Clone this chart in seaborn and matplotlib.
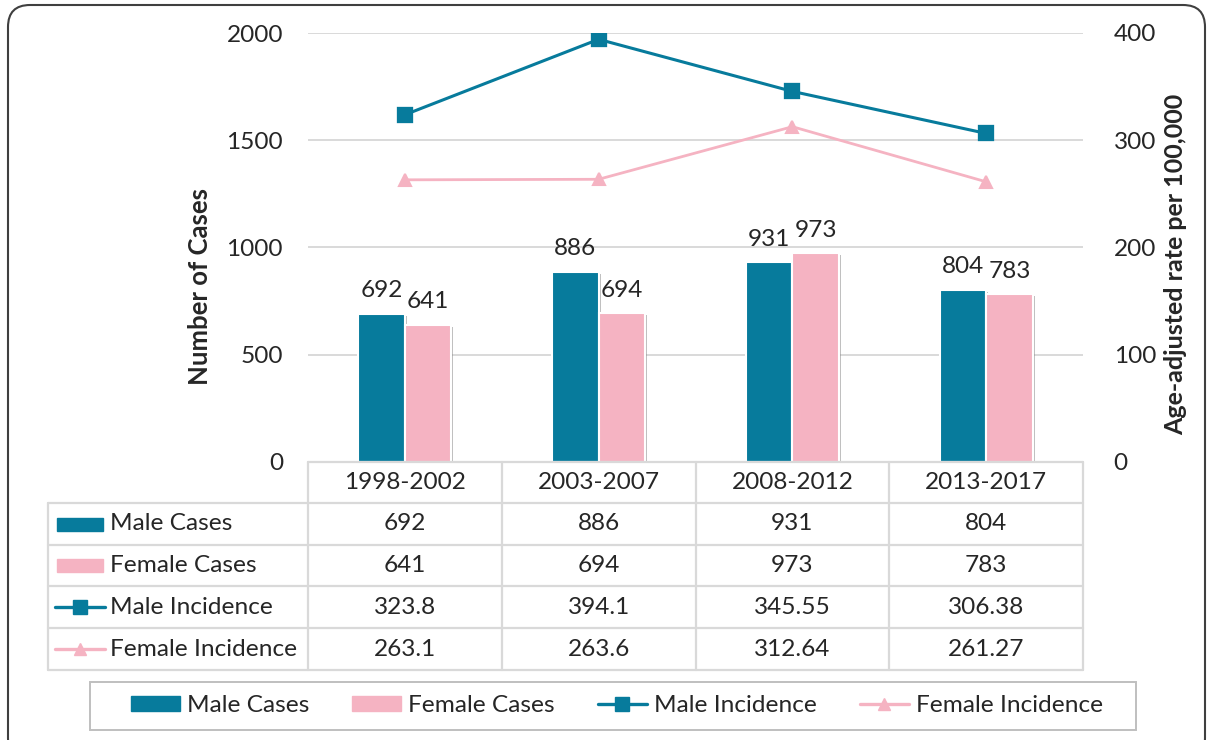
import matplotlib
matplotlib.use("Agg")
import matplotlib.pyplot as plt
import matplotlib.patheffects as pe
import matplotlib.transforms as mtrans
from matplotlib.patches import Rectangle, FancyBboxPatch
from matplotlib.lines import Line2D
import numpy as np
import pandas as pd
import seaborn as sns

# ---------------- data ----------------
periods = ["1998-2002", "2003-2007", "2008-2012", "2013-2017"]
male_cases = [692, 886, 931, 804]
female_cases = [641, 694, 973, 783]
male_incidence = [323.8, 394.1, 345.55, 306.38]
female_incidence = [263.1, 263.6, 312.64, 261.27]
series_names = ["Male Cases", "Female Cases", "Male Incidence", "Female Incidence"]
left_ticks = [0, 500, 1000, 1500, 2000]
right_ticks = [0, 100, 200, 300, 400]

# ---------------- style ----------------
TEAL = "#077B9C"
PINK = "#F5B3C2"
GRID = "#D9D9D9"
TXT = "#262626"
FS = 17.6

sns.set_theme(style="white")
plt.rcParams["font.family"] = ["Lato", "DejaVu Sans"]

W, H = 1211, 740
fig = plt.figure(figsize=(W / 100, H / 100), dpi=100)
fig.patch.set_facecolor("white")


def fx(x):
    return x / W


def fy(y):
    return 1 - y / H


L, R, T, B = 308, 1083, 33, 462
ax = fig.add_axes([fx(L), fy(B), (R - L) / W, (B - T) / H])

# ---------------- bars ----------------
df = pd.DataFrame({
    "Period": periods * 2,
    "Cases": male_cases + female_cases,
    "Series": [series_names[0]] * len(periods) + [series_names[1]] * len(periods),
})
sns.barplot(data=df, x="Period", y="Cases", hue="Series",
            hue_order=series_names[:2], order=periods,
            palette=[TEAL, PINK], saturation=1, width=0.48, gap=0,
            edgecolor="white", linewidth=1.5, ax=ax, legend=False,
            zorder=3)
for p in ax.patches:
    p.set_path_effects([pe.SimplePatchShadow(offset=(1.5, -1.5),
                                             shadow_rgbFace="#7f7f7f", alpha=0.5),
                        pe.Normal()])
for cont in ax.containers:
    ax.bar_label(cont, padding=9, fontsize=FS, color=TXT)

ax.set_xlim(-0.5, len(periods) - 0.5)
ax.set_ylim(0, 2000)
ax.set_yticks(left_ticks)
ax.yaxis.grid(True, color=GRID, lw=1.4)
ax.set_axisbelow(True)
for s in ax.spines.values():
    s.set_visible(False)
ax.tick_params(axis="y", length=0, pad=18, labelsize=FS, labelcolor=TXT)
ax.set_xlabel("")
ax.set_ylabel("")

# ---------------- lines ----------------
ax2 = ax.twinx()
sns.pointplot(x=periods, y=male_incidence, order=periods, color=TEAL,
              markers="s", linestyles="-", errorbar=None, ax=ax2,
              markersize=10, linewidth=2.2, zorder=5)
sns.pointplot(x=periods, y=female_incidence, order=periods, color=PINK,
              markers="^", linestyles="-", errorbar=None, ax=ax2,
              markersize=9, linewidth=2.0, zorder=4)
ax2.set_ylim(0, 400)
ax2.set_yticks(right_ticks)
ax2.grid(False)
for s in ax2.spines.values():
    s.set_visible(False)
ax2.tick_params(axis="y", length=0, pad=22, labelsize=FS, labelcolor=TXT)
ax2.set_ylabel("")
ax2.set_xlabel("")
ax.set_xlim(-0.5, len(periods) - 0.5)
ax.set_xticks([])
ax2.set_xticks([])

fig.text(fx(200), fy(287), "Number of Cases", rotation=90, ha="center",
         va="center", fontsize=18.5, fontweight="bold", color=TXT)
fig.text(fx(1176), fy(264), "Age-adjusted rate per 100,000", rotation=90,
         ha="center", va="center", fontsize=18, fontweight="bold", color=TXT)

# ---------------- data table ----------------
bt = mtrans.blended_transform_factory(ax.transData, fig.transFigure)
row_lines = [462, 503, 545, 586, 628, 670]
TL = 48
n = len(periods)
fig.add_artist(Line2D([-0.5, n - 0.5], [fy(462), fy(462)], transform=bt,
                      color=GRID, lw=1.6))
for yy in row_lines[1:]:
    fig.add_artist(Line2D([fx(TL), fx(R)], [fy(yy), fy(yy)],
                          transform=fig.transFigure, color=GRID, lw=1.6))
fig.add_artist(Line2D([fx(TL), fx(TL)], [fy(503), fy(670)],
                      transform=fig.transFigure, color=GRID, lw=1.6))
for i in range(n + 1):
    fig.add_artist(Line2D([i - 0.5, i - 0.5], [fy(462), fy(670)],
                          transform=bt, color=GRID, lw=1.6))

centers_y = [(row_lines[k] + row_lines[k + 1]) / 2 for k in range(5)]
for i, per in enumerate(periods):
    fig.text(i, fy(centers_y[0]), per, transform=bt, ha="center",
             va="center", fontsize=FS, color=TXT)
table_rows = [male_cases, female_cases, male_incidence, female_incidence]
for r, vals in enumerate(table_rows):
    for i, v in enumerate(vals):
        fig.text(i, fy(centers_y[r + 1]), f"{v:g}", transform=bt,
                 ha="center", va="center", fontsize=FS, color=TXT)

for r, name in enumerate(series_names):
    cy = centers_y[r + 1]
    if r < 2:
        col = TEAL if r == 0 else PINK
        fig.add_artist(Rectangle((fx(57), fy(cy + 6.5)), (103 - 57) / W, 13 / H,
                                 transform=fig.transFigure, color=col))
    else:
        col = TEAL if r == 2 else PINK
        mk = "s" if r == 2 else "^"
        fig.add_artist(Line2D([fx(55), fx(105)], [fy(cy), fy(cy)],
                              transform=fig.transFigure, color=col, lw=2.4))
        fig.add_artist(Line2D([fx(80)], [fy(cy)], transform=fig.transFigure,
                              color=col, marker=mk, markersize=10 if r == 2 else 9,
                              lw=0))
    fig.text(fx(110), fy(cy), name, ha="left", va="center", fontsize=FS,
             color=TXT)

# ---------------- bottom legend ----------------
fig.add_artist(Rectangle((fx(90), fy(730)), (1136 - 90) / W, (730 - 682) / H,
                         transform=fig.transFigure, facecolor="none",
                         edgecolor="#BFBFBF", lw=1.4))
handles = [
    Rectangle((0, 0), 1, 1, color=TEAL),
    Rectangle((0, 0), 1, 1, color=PINK),
    Line2D([], [], color=TEAL, marker="s", markersize=10, lw=2.4),
    Line2D([], [], color=PINK, marker="^", markersize=9, lw=2.4),
]
fig.legend(handles, series_names, loc="center",
           bbox_to_anchor=(fx(617), fy(706)), ncol=4, frameon=False,
           fontsize=FS, handlelength=2.0, handleheight=0.55,
           handletextpad=0.3, columnspacing=1.75, labelcolor=TXT)

# ---------------- outer border ----------------
border = FancyBboxPatch((8, -20), 1197, 755,
                        boxstyle="round,pad=0,rounding_size=22",
                        transform=mtrans.IdentityTransform(),
                        facecolor="none", edgecolor="#3F3F3F", lw=1.5)
fig.add_artist(border)

fig.savefig("out.png", dpi=100)
